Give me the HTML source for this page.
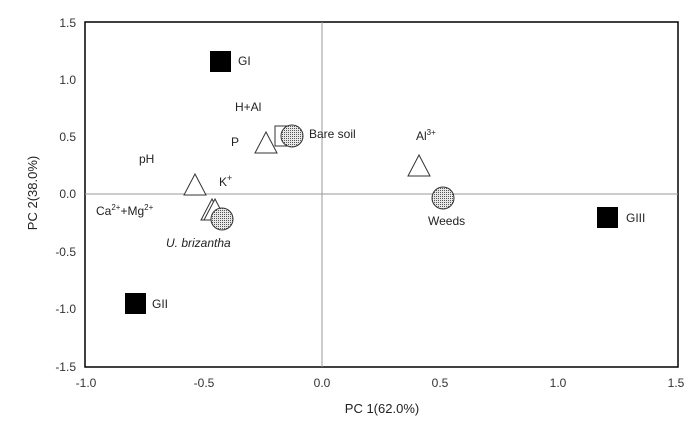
<!DOCTYPE html>
<html><head><style>body{margin:0;background:#fff}svg{display:block}</style></head><body>
<svg width="696" height="423" xmlns="http://www.w3.org/2000/svg" font-family="Liberation Sans, sans-serif">
<defs>
<pattern id="dots" width="2" height="2" patternUnits="userSpaceOnUse">
<rect width="2" height="2" fill="#e8e8e8"/><rect width="1" height="1" fill="#555"/>
</pattern>
</defs>
<rect x="85" y="22" width="593" height="345" fill="none" stroke="#000" stroke-width="1.5"/>
<line x1="322" y1="22" x2="322" y2="367" stroke="#999" stroke-width="1"/>
<line x1="85" y1="194" x2="678" y2="194" stroke="#999" stroke-width="1"/>
<g font-size="12" fill="#333" text-anchor="end">
<text x="76" y="27">1.5</text><text x="76" y="84">1.0</text><text x="76" y="141">0.5</text>
<text x="76" y="198">0.0</text><text x="76" y="256">-0.5</text><text x="76" y="313">-1.0</text><text x="76" y="371">-1.5</text>
</g>
<g font-size="12" fill="#333" text-anchor="middle">
<text x="86" y="387">-1.0</text><text x="204" y="387">-0.5</text><text x="322" y="387">0.0</text>
<text x="440" y="387">0.5</text><text x="558" y="387">1.0</text><text x="676" y="387">1.5</text>
</g>
<text x="382" y="413" font-size="13" text-anchor="middle" fill="#222">PC 1(62.0%)</text>
<text transform="translate(37,193) rotate(-90)" font-size="13" text-anchor="middle" fill="#222">PC 2(38.0%)</text>
<rect x="210" y="51" width="21" height="21" fill="#000"/>
<rect x="125" y="293" width="21" height="21" fill="#000"/>
<rect x="597" y="207" width="21" height="21" fill="#000"/>
<rect x="275" y="126" width="20" height="20" fill="#fff" stroke="#333"/>
<g fill="#fff" stroke="#333">
<polygon points="266,132 255,153 277,153"/>
<polygon points="195,174 184,195 206,195"/>
<polygon points="212,199 201,220 223,220"/>
<polygon points="215,199 204,220 226,220"/>
<polygon points="419,155 408,176 430,176"/>
</g>
<g fill="url(#dots)" stroke="#333">
<circle cx="292" cy="136" r="11"/>
<circle cx="222" cy="219" r="11"/>
<circle cx="443" cy="198" r="11"/>
</g>
<g font-size="12" fill="#222">
<text x="238" y="65">GI</text>
<text x="152" y="308">GII</text>
<text x="626" y="222">GIII</text>
<text x="235" y="111">H+Al</text>
<text x="231" y="146">P</text>
<text x="139" y="163">pH</text>
<text x="219" y="186">K<tspan font-size="9" dy="-5">+</tspan></text>
<text x="96" y="215">Ca<tspan font-size="8" dy="-5">2+</tspan><tspan dy="5">+Mg</tspan><tspan font-size="8" dy="-5">2+</tspan></text>
<text x="166" y="247" font-style="italic">U. brizantha</text>
<text x="309" y="138">Bare soil</text>
<text x="416" y="140">Al<tspan font-size="8" dy="-5">3+</tspan></text>
<text x="428" y="225">Weeds</text>
</g>
</svg>
</body></html>
